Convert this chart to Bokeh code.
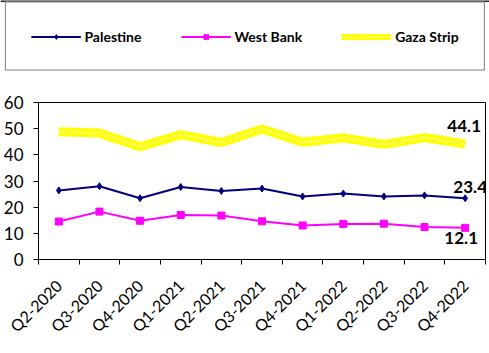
import math
from bokeh.plotting import figure
from bokeh.layouts import column
from bokeh.models import (Range1d, FixedTicker, Legend, LegendItem, ColumnDataSource, Span)
from bokeh.core.properties import value
from bokeh.embed import file_html
from bokeh.resources import INLINE

categories = ["Q2-2020", "Q3-2020", "Q4-2020", "Q1-2021", "Q2-2021", "Q3-2021",
              "Q4-2021", "Q1-2022", "Q2-2022", "Q3-2022", "Q4-2022"]
palestine = [26.4, 28.0, 23.4, 27.7, 26.2, 27.1, 24.1, 25.2, 24.1, 24.5, 23.4]
west_bank = [14.5, 18.3, 14.8, 17.0, 16.8, 14.6, 13.0, 13.6, 13.7, 12.4, 12.1]
gaza = [48.8, 48.3, 43.1, 47.7, 44.7, 49.9, 44.8, 46.5, 44.0, 46.6, 44.1]
series_names = ["Palestine", "West Bank", "Gaza Strip"]
y_ticks = [0, 10, 20, 30, 40, 50, 60]

FONT = "Lato"
NAVY, MAGENTA, YELLOW, PALE = "#000080", "#ff00ff", "#ffff00", "#fffbc8"
xs = [i + 0.5 for i in range(len(categories))]

LEG_H = 72

p = figure(width=489, height=353 - LEG_H, output_backend="svg", toolbar_location=None,
           x_range=Range1d(0, len(categories)), y_range=Range1d(0, 60),
           min_border_left=37, min_border_right=4, min_border_top=102 - LEG_H,
           min_border_bottom=94)
p.frame_align = False
p.grid.visible = False
p.outline_line_color = "black"
p.outline_line_width = 1
p.background_fill_color = "white"
p.border_fill_color = "white"

# y axis
p.yaxis.ticker = FixedTicker(ticks=y_ticks)
p.yaxis.major_tick_out = 5
p.yaxis.major_tick_in = 0
p.yaxis.minor_tick_out = 0
p.yaxis.axis_line_color = "black"
p.yaxis.major_tick_line_color = "black"
p.yaxis.major_label_text_font = FONT
p.yaxis.major_label_text_font_size = "17px"
p.yaxis.major_label_text_color = "black"
p.yaxis.major_label_standoff = 10

# x axis: labels at category centres, tick marks at category boundaries
p.xaxis.ticker = FixedTicker(ticks=xs, minor_ticks=list(range(len(categories) + 1)))
p.xaxis.major_label_overrides = {x: c for x, c in zip(xs, categories)}
p.xaxis.major_tick_out = 0
p.xaxis.major_tick_in = 0
p.xaxis.minor_tick_out = 5
p.xaxis.minor_tick_in = 0
p.xaxis.minor_tick_line_color = "black"
p.xaxis.axis_line_color = "black"
p.xaxis.major_label_orientation = math.pi / 4
p.xaxis.major_label_text_font = FONT
p.xaxis.major_label_text_font_size = "16px"
p.xaxis.major_label_text_color = "black"
p.xaxis.major_label_standoff = 18

# series
p.line(xs, gaza, line_color=YELLOW, line_width=9)
p.line(xs, gaza, line_color=PALE, line_width=3, line_dash="1 2")
p.line(xs, palestine, line_color=NAVY, line_width=2)
p.scatter(xs, palestine, marker="diamond", size=7, fill_color=NAVY, line_color=NAVY)
p.line(xs, west_bank, line_color=MAGENTA, line_width=2)
p.scatter(xs, west_bank, marker="square", size=7, fill_color=MAGENTA, line_color=MAGENTA)

# end labels
last = len(categories) - 1
lab_src = ColumnDataSource(dict(
    x=[xs[last]] * 3,
    y=[gaza[last], palestine[last], west_bank[last]],
    text=[f"{gaza[last]:.1f}", f"{palestine[last]:.1f}", f"{west_bank[last]:.1f}"],
    xo=[-1, 5, -4],
    yo=[-18, -11, 10],
))
p.text(x="x", y="y", text="text", source=lab_src, x_offset="xo", y_offset="yo",
       text_align="center", text_baseline="middle", text_font=value(FONT),
       text_font_style="bold", text_font_size="17px", text_color="black")

# legend panel (separate figure on top, legend-only proxies kept off-frame)
lf = figure(width=489, height=LEG_H, output_backend="svg", toolbar_location=None,
            x_range=Range1d(0, 1), y_range=Range1d(0, 1),
            x_axis_location=None, y_axis_location=None,
            min_border_left=0, min_border_right=0, min_border_top=0, min_border_bottom=0)
lf.frame_align = False
lf.grid.visible = False
lf.outline_line_color = None
lf.border_fill_color = "white"
ex, ey = [-5, -4], [-5, -4]
a1 = lf.line(ex, ey, line_color=NAVY, line_width=2)
a2 = lf.scatter(ex, ey, marker="diamond", size=6, fill_color=NAVY, line_color=NAVY)
b1 = lf.line(ex, ey, line_color=MAGENTA, line_width=2)
b2 = lf.scatter(ex, ey, marker="square", size=6, fill_color=MAGENTA, line_color=MAGENTA)
c1 = lf.line(ex, ey, line_color=YELLOW, line_width=6)
c2 = lf.line(ex, ey, line_color=PALE, line_width=2, line_dash="1 2")
lf.add_layout(Span(location=1, dimension="width", line_color="#222222", line_width=3))

legend = Legend(items=[
    LegendItem(label=series_names[0], renderers=[a1, a2]),
    LegendItem(label=series_names[1], renderers=[b1, b2]),
    LegendItem(label=series_names[2], renderers=[c1, c2]),
], location="center", orientation="horizontal")
legend.label_text_font = FONT
legend.label_text_font_style = "bold"
legend.label_text_font_size = "14px"
legend.label_text_color = "black"
legend.glyph_width = 50
legend.glyph_height = 12
legend.label_height = 12
legend.label_standoff = 4
legend.spacing = 39
legend.padding = 25
legend.margin = 0
legend.border_line_color = "black"
legend.border_line_width = 1
legend.background_fill_color = "white"
legend.background_fill_alpha = 1
lf.add_layout(legend, "center")

layout = column(lf, p, spacing=0)
open("out.html", "w").write(file_html(layout, INLINE))
